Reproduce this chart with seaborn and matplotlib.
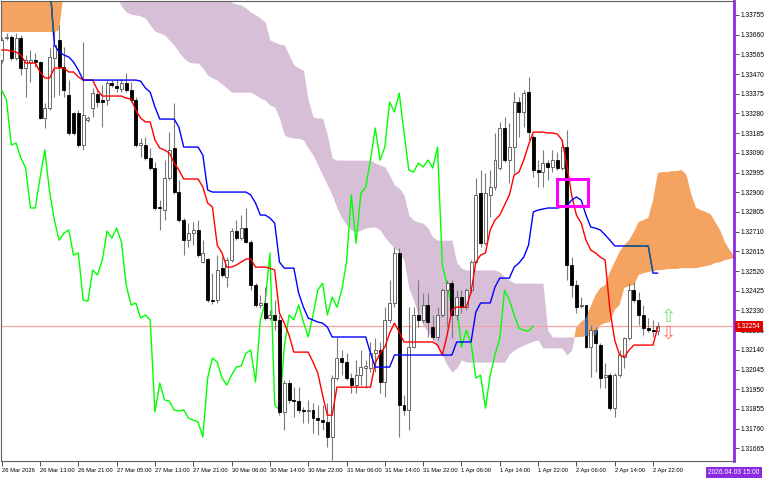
import numpy as np
import pandas as pd
import seaborn as sns
import matplotlib
matplotlib.use("Agg")
from matplotlib import pyplot as plt
from matplotlib import transforms, font_manager
from matplotlib.patches import Rectangle, PathPatch
from matplotlib.path import Path

sns.set_theme(style="white")
installed = {f.name for f in font_manager.fontManager.ttflist}
if "Liberation Sans Narrow" in installed:
    label_font, x_fs, y_fs = "Liberation Sans Narrow", 5.8, 6.1
else:
    label_font, x_fs, y_fs = "Liberation Sans", 4.2, 4.8
plt.rcParams['font.family'] = [label_font, 'DejaVu Sans']

# H1 bars, 26 Mar 05:00 -> 3 Apr 00:00
open_ = [
    1.33538, 1.33644, 1.33649, 1.33547, 1.33644, 1.33499, 1.33528, 1.33538, 1.33528, 1.33258,
    1.33306, 1.33547, 1.33634, 1.33504, 1.33369, 1.33282, 1.33282, 1.33128, 1.33248, 1.33306,
    1.33374, 1.33345, 1.33345, 1.33427, 1.33412, 1.33398, 1.33427, 1.33393, 1.33345, 1.33128,
    1.33128, 1.33065, 1.33017, 1.32829, 1.32814, 1.32969, 1.33113, 1.32901, 1.32766, 1.32669,
    1.32703, 1.32718, 1.32563, 1.32578, 1.32380, 1.32380, 1.32534, 1.32491, 1.32573, 1.32713,
    1.32679, 1.32727, 1.32660, 1.32452, 1.32356, 1.32366, 1.32293, 1.32308, 1.32284, 1.31840,
    1.31980, 1.31898, 1.31893, 1.31850, 1.31845, 1.31850, 1.31811, 1.31801, 1.31792, 1.31719,
    1.32004, 1.32100, 1.32081, 1.32004, 1.31970, 1.32018, 1.32052, 1.32052, 1.32124, 1.32139,
    1.31985, 1.32284, 1.32366, 1.32607, 1.31874, 1.31850, 1.32153, 1.32308, 1.32284, 1.32356,
    1.32250, 1.32202, 1.32308, 1.32428, 1.32462, 1.32308, 1.32395, 1.32346, 1.32428, 1.32563,
    1.32896, 1.32655, 1.32887, 1.32925, 1.33017, 1.33210, 1.33055, 1.33118, 1.33335, 1.33287,
    1.33383, 1.33166, 1.33007, 1.32997, 1.33041, 1.33022, 1.33055, 1.33017, 1.33118, 1.32549,
    1.32452, 1.32351, 1.32356, 1.32153, 1.32235, 1.32163, 1.32009, 1.32018, 1.31859, 1.32018,
    1.32105, 1.32197, 1.32428, 1.32380, 1.32308, 1.32245, 1.32235, 1.32231]
high = [
    1.33649, 1.33668, 1.33658, 1.33668, 1.33658, 1.33562, 1.33586, 1.33571, 1.33533, 1.33330,
    1.33595, 1.33682, 1.33706, 1.33600, 1.33441, 1.33287, 1.33296, 1.33624, 1.33268, 1.33403,
    1.33393, 1.33417, 1.33441, 1.33441, 1.33441, 1.33446, 1.33475, 1.33432, 1.33359, 1.33161,
    1.33166, 1.33113, 1.33046, 1.32862, 1.33055, 1.33190, 1.33330, 1.32959, 1.32776, 1.32751,
    1.32756, 1.32766, 1.32669, 1.32583, 1.32510, 1.32597, 1.32587, 1.32587, 1.32727, 1.32766,
    1.32790, 1.32824, 1.32669, 1.32462, 1.32404, 1.32443, 1.32332, 1.32380, 1.32308, 1.31994,
    1.31994, 1.31960, 1.31960, 1.31864, 1.31898, 1.31883, 1.31874, 1.31874, 1.31883, 1.32018,
    1.32202, 1.32139, 1.32124, 1.32028, 1.32091, 1.32139, 1.32091, 1.32178, 1.32197, 1.32178,
    1.32346, 1.32477, 1.32636, 1.32631, 1.31922, 1.32346, 1.32346, 1.32477, 1.32414, 1.32414,
    1.32308, 1.32346, 1.32438, 1.32477, 1.32477, 1.32428, 1.32428, 1.32438, 1.32573, 1.32969,
    1.33007, 1.32993, 1.33007, 1.33186, 1.33239, 1.33263, 1.33234, 1.33383, 1.33359, 1.33393,
    1.33456, 1.33176, 1.33055, 1.33104, 1.33055, 1.33104, 1.33094, 1.33152, 1.33200, 1.32587,
    1.32477, 1.32395, 1.32356, 1.32260, 1.32250, 1.32173, 1.32076, 1.32028, 1.32028, 1.32139,
    1.32202, 1.32462, 1.32467, 1.32419, 1.32356, 1.32293, 1.32284, 1.32274]
low = [
    1.33523, 1.33634, 1.33538, 1.33538, 1.33465, 1.33359, 1.33432, 1.33504, 1.33253, 1.33210,
    1.33296, 1.33359, 1.33369, 1.33359, 1.33176, 1.33176, 1.33118, 1.33104, 1.33239, 1.33263,
    1.33311, 1.33214, 1.33321, 1.33407, 1.33383, 1.33383, 1.33383, 1.33335, 1.33118, 1.33070,
    1.33055, 1.33007, 1.32814, 1.32718, 1.32766, 1.32959, 1.32891, 1.32756, 1.32597, 1.32636,
    1.32645, 1.32587, 1.32559, 1.32370, 1.32361, 1.32366, 1.32491, 1.32443, 1.32563, 1.32669,
    1.32669, 1.32655, 1.32428, 1.32346, 1.32342, 1.32284, 1.32284, 1.32235, 1.31825, 1.31753,
    1.31883, 1.31816, 1.31835, 1.31787, 1.31787, 1.31739, 1.31729, 1.31753, 1.31671, 1.31608,
    1.31994, 1.32018, 1.31994, 1.31932, 1.31932, 1.31970, 1.31956, 1.32033, 1.32033, 1.31932,
    1.31912, 1.32269, 1.32346, 1.31719, 1.31825, 1.31753, 1.32149, 1.32250, 1.32269, 1.32202,
    1.32187, 1.32187, 1.32298, 1.32250, 1.32197, 1.32284, 1.32317, 1.32332, 1.32414, 1.32559,
    1.32636, 1.32645, 1.32780, 1.32911, 1.33007, 1.33046, 1.32944, 1.32993, 1.33166, 1.33214,
    1.33152, 1.32973, 1.32925, 1.32925, 1.32959, 1.32997, 1.33007, 1.33007, 1.32477, 1.32395,
    1.32317, 1.32342, 1.32149, 1.32009, 1.32033, 1.31956, 1.31956, 1.31850, 1.31816, 1.32009,
    1.32052, 1.32187, 1.32370, 1.32260, 1.32211, 1.32226, 1.32202, 1.32211]
close = [
    1.33634, 1.33649, 1.33547, 1.33644, 1.33499, 1.33538, 1.33538, 1.33528, 1.33258, 1.33306,
    1.33552, 1.33610, 1.33504, 1.33393, 1.33186, 1.33186, 1.33128, 1.33272, 1.33258, 1.33378,
    1.33335, 1.33335, 1.33427, 1.33417, 1.33403, 1.33427, 1.33393, 1.33345, 1.33128, 1.33137,
    1.33065, 1.33017, 1.32824, 1.32824, 1.32969, 1.33104, 1.32901, 1.32766, 1.32669, 1.32703,
    1.32718, 1.32597, 1.32607, 1.32380, 1.32375, 1.32525, 1.32501, 1.32573, 1.32713, 1.32679,
    1.32727, 1.32660, 1.32452, 1.32356, 1.32366, 1.32293, 1.32308, 1.32284, 1.31840, 1.31980,
    1.31898, 1.31893, 1.31850, 1.31845, 1.31850, 1.31811, 1.31801, 1.31792, 1.31719, 1.32004,
    1.32100, 1.32081, 1.32004, 1.31970, 1.32018, 1.32057, 1.32062, 1.32124, 1.32139, 1.31985,
    1.32284, 1.32366, 1.32607, 1.31874, 1.31850, 1.32153, 1.32308, 1.32284, 1.32356, 1.32274,
    1.32202, 1.32308, 1.32428, 1.32462, 1.32308, 1.32395, 1.32346, 1.32428, 1.32563, 1.32887,
    1.32655, 1.32896, 1.32925, 1.33055, 1.33210, 1.33055, 1.33118, 1.33335, 1.33287, 1.33378,
    1.33190, 1.33007, 1.32997, 1.33041, 1.33022, 1.33055, 1.33017, 1.33118, 1.32549, 1.32452,
    1.32346, 1.32356, 1.32153, 1.32235, 1.32173, 1.32004, 1.32018, 1.31859, 1.32018, 1.32115,
    1.32197, 1.32428, 1.32380, 1.32308, 1.32245, 1.32235, 1.32231, 1.32254]

tenkan = [
    1.33586, 1.33586, 1.33581, 1.33576, 1.33562, 1.33523, 1.33523, 1.33523, 1.33480, 1.33451,
    1.33451, 1.33499, 1.33499, 1.33499, 1.33480, 1.33480, 1.33456, 1.33441, 1.33441, 1.33441,
    1.33393, 1.33364, 1.33364, 1.33364, 1.33364, 1.33364, 1.33354, 1.33350, 1.33296, 1.33258,
    1.33239, 1.33239, 1.33152, 1.33113, 1.33104, 1.33089, 1.33041, 1.33007, 1.32964, 1.32964,
    1.32964, 1.32964, 1.32925, 1.32848, 1.32829, 1.32645, 1.32607, 1.32539, 1.32539, 1.32549,
    1.32563, 1.32578, 1.32578, 1.32539, 1.32539, 1.32539, 1.32534, 1.32525, 1.32317, 1.32269,
    1.32211, 1.32129, 1.32129, 1.32129, 1.32129, 1.32081, 1.32028, 1.31922, 1.31825, 1.31825,
    1.31960, 1.31960, 1.31960, 1.31960, 1.31960, 1.31960, 1.31960, 1.31960, 1.32076, 1.32124,
    1.32153, 1.32221, 1.32269, 1.32226, 1.32178, 1.32178, 1.32178, 1.32178, 1.32178, 1.32178,
    1.32178, 1.32163, 1.32115, 1.32211, 1.32332, 1.32346, 1.32346, 1.32346, 1.32419, 1.32563,
    1.32597, 1.32607, 1.32718, 1.32766, 1.32790, 1.32838, 1.32887, 1.32983, 1.32997, 1.33055,
    1.33128, 1.33190, 1.33190, 1.33190, 1.33186, 1.33186, 1.33181, 1.33152, 1.33031, 1.32887,
    1.32790, 1.32751, 1.32669, 1.32621, 1.32607, 1.32587, 1.32573, 1.32332, 1.32187, 1.32115,
    1.32105, 1.32139, 1.32163, 1.32163, 1.32163, 1.32163, 1.32163, 1.32250]
kijun = [
    1.33948, 1.33948, 1.33948, 1.33948, 1.33948, 1.33948, 1.33948, 1.33948, 1.33948, 1.33948,
    1.33923, 1.33610, 1.33576, 1.33562, 1.33552, 1.33528, 1.33489, 1.33441, 1.33441, 1.33441,
    1.33441, 1.33441, 1.33441, 1.33441, 1.33441, 1.33441, 1.33441, 1.33441, 1.33441, 1.33436,
    1.33403, 1.33383, 1.33311, 1.33253, 1.33253, 1.33253, 1.33253, 1.33214, 1.33118, 1.33118,
    1.33118, 1.33118, 1.33079, 1.32911, 1.32901, 1.32901, 1.32901, 1.32901, 1.32901, 1.32901,
    1.32901, 1.32901, 1.32887, 1.32848, 1.32790, 1.32790, 1.32776, 1.32751, 1.32563, 1.32534,
    1.32534, 1.32534, 1.32414, 1.32346, 1.32293, 1.32284, 1.32274, 1.32269, 1.32250, 1.32202,
    1.32202, 1.32202, 1.32202, 1.32202, 1.32202, 1.32202, 1.32202, 1.32124, 1.32057, 1.32057,
    1.32057, 1.32057, 1.32115, 1.32115, 1.32115, 1.32115, 1.32115, 1.32115, 1.32115, 1.32115,
    1.32115, 1.32115, 1.32115, 1.32115, 1.32115, 1.32178, 1.32178, 1.32178, 1.32178, 1.32322,
    1.32366, 1.32366, 1.32366, 1.32443, 1.32486, 1.32486, 1.32486, 1.32539, 1.32559, 1.32587,
    1.32645, 1.32805, 1.32814, 1.32819, 1.32824, 1.32824, 1.32824, 1.32829, 1.32833, 1.32862,
    1.32877, 1.32862, 1.32790, 1.32732, 1.32727, 1.32718, 1.32694, 1.32669, 1.32641, 1.32641,
    1.32641, 1.32641, 1.32641, 1.32641, 1.32641, 1.32641, 1.32510, 1.32510]

# senkou spans as drawn (26 bars ahead), bar 0 .. 153
span_a = [
    1.34020, 1.34020, 1.34020, 1.34020, 1.34020, 1.34020, 1.34020, 1.34020, 1.34020, 1.34020,
    1.34020, 1.34020, 1.34020, 1.34116, 1.34116, 1.34116, 1.34116, 1.34116, 1.34116, 1.34116,
    1.34116, 1.34116, 1.34116, 1.34116, 1.33841, 1.33798, 1.33769, 1.33759, 1.33755, 1.33750,
    1.33740, 1.33706, 1.33677, 1.33668, 1.33658, 1.33634, 1.33610, 1.33576, 1.33547, 1.33528,
    1.33523, 1.33523, 1.33499, 1.33465, 1.33451, 1.33441, 1.33422, 1.33403, 1.33383, 1.33383,
    1.33383, 1.33383, 1.33383, 1.33369, 1.33354, 1.33345, 1.33321, 1.33311, 1.33258, 1.33176,
    1.33166, 1.33161, 1.33161, 1.33152, 1.33113, 1.33079, 1.33031, 1.32983, 1.32935, 1.32887,
    1.32824, 1.32776, 1.32742, 1.32718, 1.32708, 1.32718, 1.32727, 1.32732, 1.32732, 1.32718,
    1.32684, 1.32655, 1.32631, 1.32612, 1.32573, 1.32438, 1.32380, 1.32308, 1.32260, 1.32226,
    1.32197, 1.32153, 1.32115, 1.32067, 1.32033, 1.32052, 1.32091, 1.32081, 1.32081, 1.32081,
    1.32081, 1.32081, 1.32081, 1.32081, 1.32081, 1.32081, 1.32120, 1.32139, 1.32153, 1.32163,
    1.32173, 1.32182, 1.32187, 1.32149, 1.32149, 1.32149, 1.32149, 1.32149, 1.32115, 1.32139,
    1.32250, 1.32274, 1.32293, 1.32351, 1.32404, 1.32438, 1.32452, 1.32515, 1.32563, 1.32612,
    1.32645, 1.32669, 1.32708, 1.32756, 1.32766, 1.32776, 1.32862, 1.32993, 1.32997, 1.32997,
    1.33002, 1.33002, 1.33007, 1.32983, 1.32887, 1.32824, 1.32814, 1.32805, 1.32795, 1.32756,
    1.32718, 1.32660, 1.32621, 1.32592]
span_b = [
    1.33673, 1.33673, 1.33673, 1.33673, 1.33673, 1.33673, 1.33673, 1.33673, 1.33673, 1.33673,
    1.33673, 1.33673, 1.33682, 1.33875, 1.33923, 1.33923, 1.33923, 1.33923, 1.33923, 1.33923,
    1.33923, 1.33923, 1.33923, 1.33923, 1.34068, 1.34068, 1.34068, 1.34068, 1.34068, 1.34068,
    1.34068, 1.34068, 1.34068, 1.34068, 1.34068, 1.34068, 1.34068, 1.34068, 1.34068, 1.34068,
    1.34068, 1.34068, 1.34068, 1.34068, 1.34068, 1.34068, 1.33851, 1.33827, 1.33817, 1.33808,
    1.33803, 1.33788, 1.33769, 1.33755, 1.33740, 1.33721, 1.33634, 1.33624, 1.33615, 1.33610,
    1.33562, 1.33514, 1.33499, 1.33489, 1.33345, 1.33263, 1.33258, 1.33258, 1.33176, 1.33065,
    1.33055, 1.33055, 1.33055, 1.33055, 1.33055, 1.33055, 1.33055, 1.33055, 1.33041, 1.33031,
    1.33022, 1.32983, 1.32935, 1.32920, 1.32887, 1.32790, 1.32766, 1.32756, 1.32751, 1.32727,
    1.32684, 1.32669, 1.32669, 1.32669, 1.32669, 1.32563, 1.32534, 1.32525, 1.32525, 1.32525,
    1.32525, 1.32525, 1.32525, 1.32525, 1.32515, 1.32491, 1.32477, 1.32462, 1.32462, 1.32462,
    1.32462, 1.32462, 1.32462, 1.32462, 1.32235, 1.32202, 1.32202, 1.32202, 1.32202, 1.32202,
    1.32202, 1.32202, 1.32206, 1.32206, 1.32211, 1.32260, 1.32269, 1.32274, 1.32332, 1.32356,
    1.32438, 1.32448, 1.32452, 1.32501, 1.32510, 1.32515, 1.32520, 1.32525, 1.32525, 1.32530,
    1.32530, 1.32530, 1.32534, 1.32534, 1.32534, 1.32534, 1.32539, 1.32544, 1.32549, 1.32559,
    1.32563, 1.32573, 1.32578, 1.32583]

time_labels = ["26 Mar 2026", "26 Mar 13:00", "26 Mar 21:00", "27 Mar 05:00", "27 Mar 13:00",
               "27 Mar 21:00", "30 Mar 06:00", "30 Mar 14:00", "30 Mar 22:00", "31 Mar 06:00",
               "31 Mar 14:00", "31 Mar 22:00", "1 Apr 06:00", "1 Apr 14:00", "1 Apr 22:00",
               "2 Apr 06:00", "2 Apr 14:00", "2 Apr 22:00"]
time_label_bars = [0, 8, 16, 24, 32, 40, 48, 56, 64, 72, 80, 88, 96, 104, 112, 120, 128, 136]
price_ticks = [1.31665, 1.31760, 1.31855, 1.31950, 1.32045, 1.32140, 1.32235, 1.32330,
               1.32425, 1.32520, 1.32615, 1.32710, 1.32805, 1.32900, 1.32995, 1.33090,
               1.33185, 1.33280, 1.33375, 1.33470, 1.33565, 1.33660, 1.33755]

box_bars = [116, 122.5]
box_prices = [1.32833, 1.32964]
arrow_bar = 139.2
arrow_up_price = 1.32300
arrow_down_price = 1.32219
vline_label = "2026.04.03 15:00"

bars = pd.DataFrame({"bar": np.arange(len(close)), "open": open_, "high": high,
                     "low": low, "close": close, "tenkan": tenkan, "kijun": kijun})
cloud = pd.DataFrame({"bar": np.arange(len(span_a)), "a": span_a, "b": span_b})
chikou = pd.DataFrame({"bar": bars["bar"].values[:-26], "close": bars["close"].values[26:]})

fig = plt.figure(figsize=(7.68, 4.8), dpi=100)
ax = fig.add_axes([0.0013, 0.0396, 0.9544, 0.9573])

a = cloud["a"].values
b = cloud["b"].values
orange = ax.fill_between(cloud["bar"], a, b, where=a >= b, interpolate=True,
                         color="#f4a460", lw=0, zorder=1)
ax.fill_between(cloud["bar"], a, b, where=a < b, interpolate=True,
                color="#d8bfd8", lw=0, zorder=1)
clip = PathPatch(Path.make_compound_path(*orange.get_paths()), transform=ax.transData)

ax.axhline(close[-1], color="#f4a3a3", lw=0.9, zorder=2)

sns.lineplot(data=chikou, x="bar", y="close", color="#00ff00", lw=1.0, ax=ax,
             legend=False, zorder=3)

# candles
up = (bars["close"] >= bars["open"]).values
lo = np.minimum(bars["open"], bars["close"]).values
hgt = np.abs(bars["close"] - bars["open"]).values
ax.vlines(bars["bar"], bars["low"], bars["high"], color="#7c7c7c", lw=0.8, zorder=4)
ax.bar(bars["bar"][up], hgt[up], bottom=lo[up], width=0.62, color="white",
       edgecolor="#505050", lw=0.6, zorder=5)
ax.bar(bars["bar"][~up], hgt[~up], bottom=lo[~up], width=0.62, color="black",
       edgecolor="black", lw=0.6, zorder=5)
tinted = ax.bar(bars["bar"][~up], hgt[~up], bottom=lo[~up], width=0.62, color="#2b6cb0",
                edgecolor="#2b6cb0", lw=0.6, zorder=5.1)
for r in tinted:
    r.set_clip_path(clip)

sns.lineplot(data=bars, x="bar", y="tenkan", color="#ff0000", lw=1.0, ax=ax,
             legend=False, zorder=6)
sns.lineplot(data=bars, x="bar", y="kijun", color="#0000ff", lw=1.0, ax=ax,
             legend=False, zorder=6)
sns.lineplot(data=bars, x="bar", y="kijun", color="#1d6b6b", lw=1.0, ax=ax,
             legend=False, zorder=6.1)
ax.lines[-1].set_clip_path(clip)

ax.add_patch(Rectangle((box_bars[0], box_prices[0]), box_bars[1] - box_bars[0],
                       box_prices[1] - box_prices[0], fill=False, ec="#ff00ff",
                       lw=2.2, zorder=7))
ax.text(arrow_bar, arrow_up_price, "\u21e7", color="#6fe06f", fontsize=13,
        family="DejaVu Sans", ha="center", va="center", zorder=7)
ax.text(arrow_bar, arrow_down_price, "\u21e9", color="#ff6a6a", fontsize=13,
        family="DejaVu Sans", ha="center", va="center", zorder=7)

ax.set_xlim(-0.15, 152.9)
ax.set_ylim(1.31604, 1.33820)
ax.set_xlabel("")
ax.set_ylabel("")
ax.grid(False)

ax.yaxis.tick_right()
ax.set_yticks(price_ticks)
ax.set_yticklabels([f"{p:.5f}" for p in price_ticks], fontsize=y_fs)
ax.set_xticks(time_label_bars)
ax.set_xticklabels(time_labels, fontsize=x_fs, ha="left")
ax.tick_params(axis="both", direction="out", length=3.5, width=0.6, color="#333333",
               pad=1.5, labelcolor="black")
ax.tick_params(axis="x", bottom=True)
ax.tick_params(axis="y", right=True, left=False)

for s in ["left", "bottom", "top"]:
    ax.spines[s].set_color("#606060")
    ax.spines[s].set_linewidth(0.8)
ax.spines["right"].set_color("#8a2be2")
ax.spines["right"].set_linewidth(2)

trans = transforms.blended_transform_factory(ax.transAxes, ax.transData)
ax.text(1.004, close[-1], f"{close[-1]:.5f}", transform=trans, fontsize=y_fs,
        color="white", ha="left", va="center", zorder=10,
        bbox=dict(boxstyle="square,pad=0.3", fc="#e00000", ec="none"))
fig.text(0.9557, 0.0165, vline_label, fontsize=y_fs, color="white", ha="center",
         va="center", bbox=dict(boxstyle="square,pad=0.3", fc="#8a2be2", ec="none"))

fig.savefig("out.png", dpi=100)
